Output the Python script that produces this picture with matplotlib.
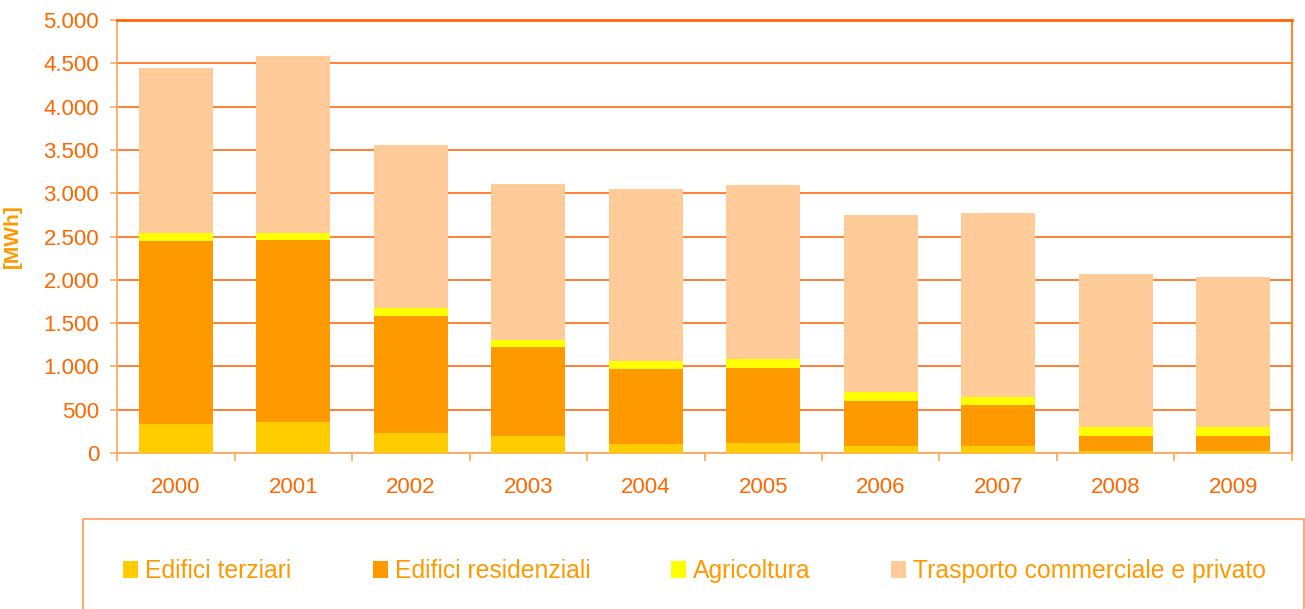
import matplotlib.pyplot as plt
import numpy as np
from matplotlib.patches import Rectangle

plt.rcParams['font.family'] = ['Liberation Sans', 'DejaVu Sans']

years = ["2000", "2001", "2002", "2003", "2004", "2005", "2006", "2007", "2008", "2009"]
terziari = [338, 361, 234, 192, 107, 119, 84, 84, 27, 27]
residenziali = [2115, 2100, 1350, 1035, 866, 865, 519, 473, 173, 173]
agricoltura = [85, 77, 93, 84, 92, 104, 104, 93, 104, 104]
trasporto = [1908, 2042, 1879, 1796, 1985, 2008, 2043, 2123, 1765, 1730]

labels = ["Edifici terziari", "Edifici residenziali", "Agricoltura",
          "Trasporto commerciale e privato"]
colors = ["#FFCC00", "#FF9900", "#FFFF00", "#FFCC99"]
series = [terziari, residenziali, agricoltura, trasporto]

text_col = "#FF6600"
grid_col = "#FF7722"

fig = plt.figure(figsize=(13.05, 6.09), dpi=100)
ax = fig.add_axes([0.0897, 0.256, 0.9003, 0.711])

x = np.arange(len(years))
bottom = np.zeros(len(years))
handles = []
for vals, col, lab in zip(series, colors, labels):
    h = ax.bar(x, vals, 0.63, bottom=bottom, color=col, label=lab, zorder=3)
    handles.append(h)
    bottom += np.array(vals)

ax.set_xlim(-0.5, len(years) - 0.5)
ax.set_ylim(0, 5000)
ax.set_yticks(np.arange(0, 5001, 500))
ax.set_yticklabels(["0" if v == 0 else f"{v:,}".replace(",", ".") for v in range(0, 5001, 500)])
ax.set_xticks(x)
ax.set_xticklabels(years)
ax.set_xticks(np.arange(-0.5, len(years), 1), minor=True)

ax.grid(axis="y", color=grid_col, lw=1.3, zorder=0)
ax.tick_params(axis="y", colors="#FFAA66", labelcolor=text_col, labelsize=16,
               length=5, width=1.2, pad=8)
ax.tick_params(axis="x", which="major", length=0, labelcolor=text_col,
               labelsize=16, pad=17)
ax.tick_params(axis="x", which="minor", length=6, width=1.2, color="#FFAA44")

for side in ["left", "bottom"]:
    ax.spines[side].set_color("#FFAA66")
    ax.spines[side].set_linewidth(1.3)
ax.spines["top"].set_color("#FF6600")
ax.spines["top"].set_linewidth(2)
ax.spines["right"].set_color("#FF8833")
ax.spines["right"].set_linewidth(1.5)

ax.set_ylabel("[MWh]", color="#FF9900", fontsize=15, fontweight="bold")
ax.yaxis.set_label_coords(-0.081, 0.5)

# legend box
fig.patches.append(Rectangle((83 / 1305, -0.01), 1 - 83 / 1305 - 0.001, 90 / 609 + 0.01,
                             transform=fig.transFigure, fill=False,
                             edgecolor="#FFAA77", lw=1.5))
leg_x = [123, 373, 671, 891]
for h, lab, lx in zip(handles, labels, leg_x):
    leg = fig.legend(handles=[h], labels=[lab], loc="center left",
                     bbox_to_anchor=(lx / 1305, 38 / 609), frameon=False,
                     fontsize=17.8, handlelength=0.6, handleheight=0.68,
                     handletextpad=0.3, borderpad=0, borderaxespad=0)
    for t in leg.get_texts():
        t.set_color("#FF9900")

fig.savefig("out.png", dpi=100)
